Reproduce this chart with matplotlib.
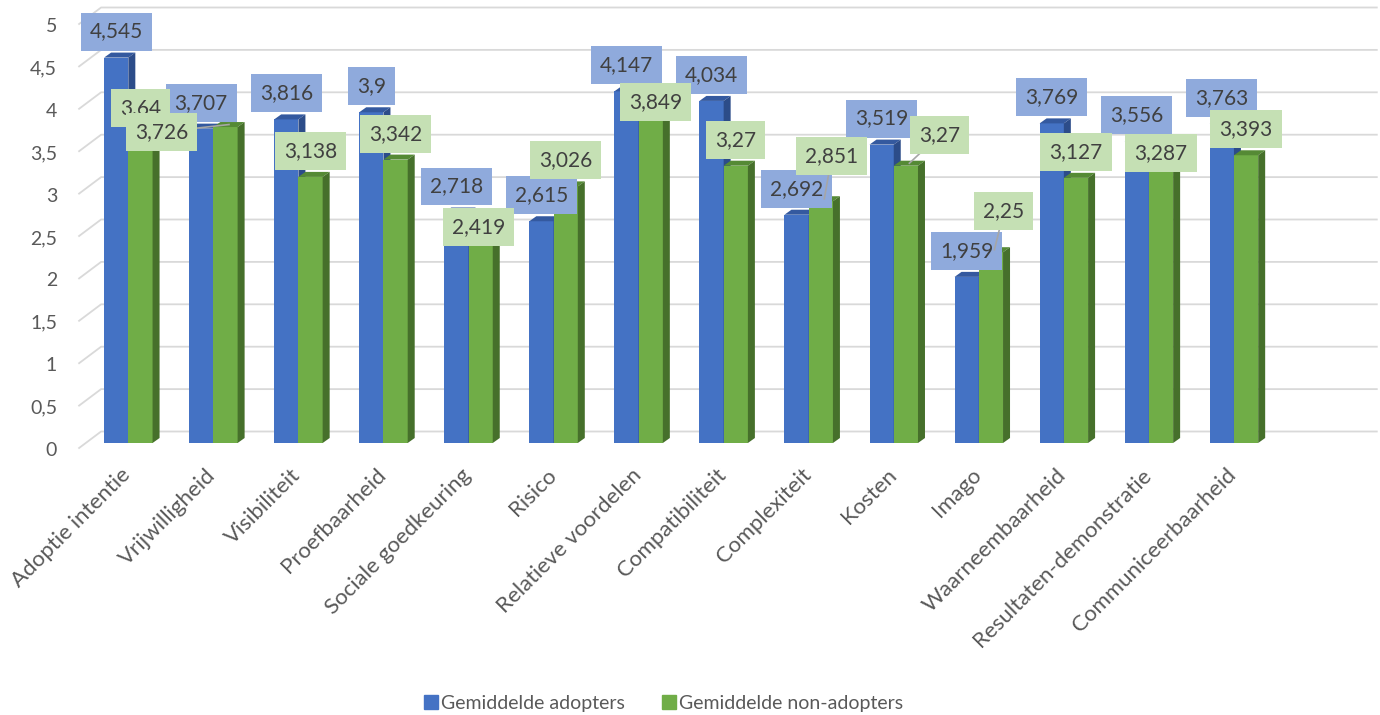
import matplotlib
matplotlib.use("Agg")
import matplotlib.pyplot as plt
from matplotlib.patches import Polygon, Patch
from matplotlib.lines import Line2D
from matplotlib.transforms import IdentityTransform
import numpy as np

plt.rcParams["font.family"] = ["Lato", "DejaVu Sans"]

categories = ["Adoptie intentie", "Vrijwilligheid", "Visibiliteit", "Proefbaarheid",
              "Sociale goedkeuring", "Risico", "Relatieve voordelen", "Compatibiliteit",
              "Complexiteit", "Kosten", "Imago", "Waarneembaarheid",
              "Resultaten-demonstratie", "Communiceerbaarheid"]
adopters = [4.545, 3.707, 3.816, 3.9, 2.718, 2.615, 4.147, 4.034, 2.692, 3.519,
            1.959, 3.769, 3.556, 3.763]
non_adopters = [3.64, 3.726, 3.138, 3.342, 2.419, 3.026, 3.849, 3.27, 2.851, 3.27,
                2.25, 3.127, 3.287, 3.393]
yticks = [0, 0.5, 1, 1.5, 2, 2.5, 3, 3.5, 4, 4.5, 5]
series_names = ["Gemiddelde adopters", "Gemiddelde non-adopters"]

# label box shifts (px, y up) for the non-adopter labels that were moved by hand
green_label_shift = {1: (-64, -31), 4: (-2, -15), 6: (5, -11), 8: (11, 19),
                     9: (34, 5), 10: (13, 15), 12: (0, -15)}
green_leaders = [1, 8, 9, 10]

BLUE, BLUE_TOP, BLUE_SIDE, BLUE_LBL = "#4472C4", "#34599F", "#2C4C89", "#8FAADC"
GREEN, GREEN_TOP, GREEN_SIDE, GREEN_LBL = "#70AD47", "#558A35", "#46702B", "#C5E0B4"
GRID = "#D9D9D9"
TXT = "#595959"
LBL_TXT = "#404040"

W, H, DPI = 1380, 715, 100
fig = plt.figure(figsize=(W / DPI, H / DPI), dpi=DPI)
ax = fig.add_axes([85.8 / W, 272 / H, 1275.7 / W, 424 / H])
ax.set_xlim(-0.5, 14.5)
ax.set_ylim(0, 5)
ax.axis("off")

BW = 0.285            # bar width in category units
DEPTH = (7, 5)        # projected bar depth, px
BACK = (15.3, 11.5)   # back wall offset, px
FRONT = (-6.7, -5)    # front edge of the floor, px
PIX = IdentityTransform()


def px(x, y, off=(0, 0)):
    X, Y = ax.transData.transform((x, y))
    return X + off[0], Y + off[1]


# back-wall gridlines with the slanted stubs on the left
x0, x1 = ax.get_xlim()
for v in yticks:
    fx, fy = px(x0, v, FRONT)
    bx, by = px(x0, v, BACK)
    ex, ey = px(x1, v, BACK)
    ax.add_line(Line2D([fx, bx, ex], [fy, by, ey], transform=PIX, color=GRID,
                       lw=1.3, clip_on=False, zorder=1))
    ax.text(fx - 22, fy - 2.5, f"{v:g}".replace(".", ","), transform=PIX, ha="right",
            va="center", fontsize=14, color=TXT)

xs = np.arange(len(categories))


def draw_series(vals, shift, front, top, side, z):
    ax.bar(xs + shift, vals, BW, color=front, zorder=z, linewidth=0)
    dx, dy = DEPTH
    for x, v in zip(xs + shift, vals):
        lx, ty = px(x - BW / 2, v)
        rx, by = px(x + BW / 2, 0)
        ax.add_patch(Polygon([(lx, ty), (rx, ty), (rx + dx, ty + dy), (lx + dx, ty + dy)],
                             closed=True, transform=PIX, color=top, lw=0, zorder=z + 0.1))
        ax.add_patch(Polygon([(rx, by), (rx, ty), (rx + dx, ty + dy), (rx + dx, by + dy)],
                             closed=True, transform=PIX, color=side, lw=0, zorder=z + 0.1))


draw_series(adopters, -BW / 2, BLUE, BLUE_TOP, BLUE_SIDE, 2)
draw_series(non_adopters, BW / 2, GREEN, GREEN_TOP, GREEN_SIDE, 3)


def draw_labels(vals, shift, box, z, moved=None, leaders=()):
    moved = moved or {}
    for i, v in enumerate(vals):
        cx, cy = px(xs[i] + shift, v)
        sx, sy = moved.get(i, (0, 0))
        lx, ly = cx + sx, cy + 26 + sy
        if i in leaders:
            ax.add_line(Line2D([lx, cx + DEPTH[0] / 2], [ly, cy + DEPTH[1] / 2],
                               transform=PIX, color="#A6A6A6", lw=1.2, zorder=z - 0.5))
        ax.text(lx, ly, f"{v:g}".replace(".", ","), transform=PIX, ha="center",
                va="center", fontsize=15, color=LBL_TXT, zorder=z,
                bbox=dict(boxstyle="square,pad=0.43", fc=box, ec="none"))


draw_labels(adopters, -BW / 2, BLUE_LBL, 10)
draw_labels(non_adopters, BW / 2, GREEN_LBL, 11, green_label_shift, green_leaders)

# rotated category names under the floor
for i, name in enumerate(categories):
    tx, ty = px(xs[i], 0, FRONT)
    ax.text(tx - 1, ty - 17, name, transform=PIX, rotation=45, rotation_mode="anchor",
            ha="right", va="top", fontsize=16, color=TXT)

handles = [Patch(color=BLUE), Patch(color=GREEN)]
fig.legend(handles, series_names, loc="center", bbox_to_anchor=(663.5 / W, 12 / H),
           ncol=2, frameon=False, fontsize=14, handlelength=0.72, handleheight=0.72,
           handletextpad=0.15, columnspacing=1.95, labelcolor=TXT)

fig.savefig("out.png", dpi=DPI)
